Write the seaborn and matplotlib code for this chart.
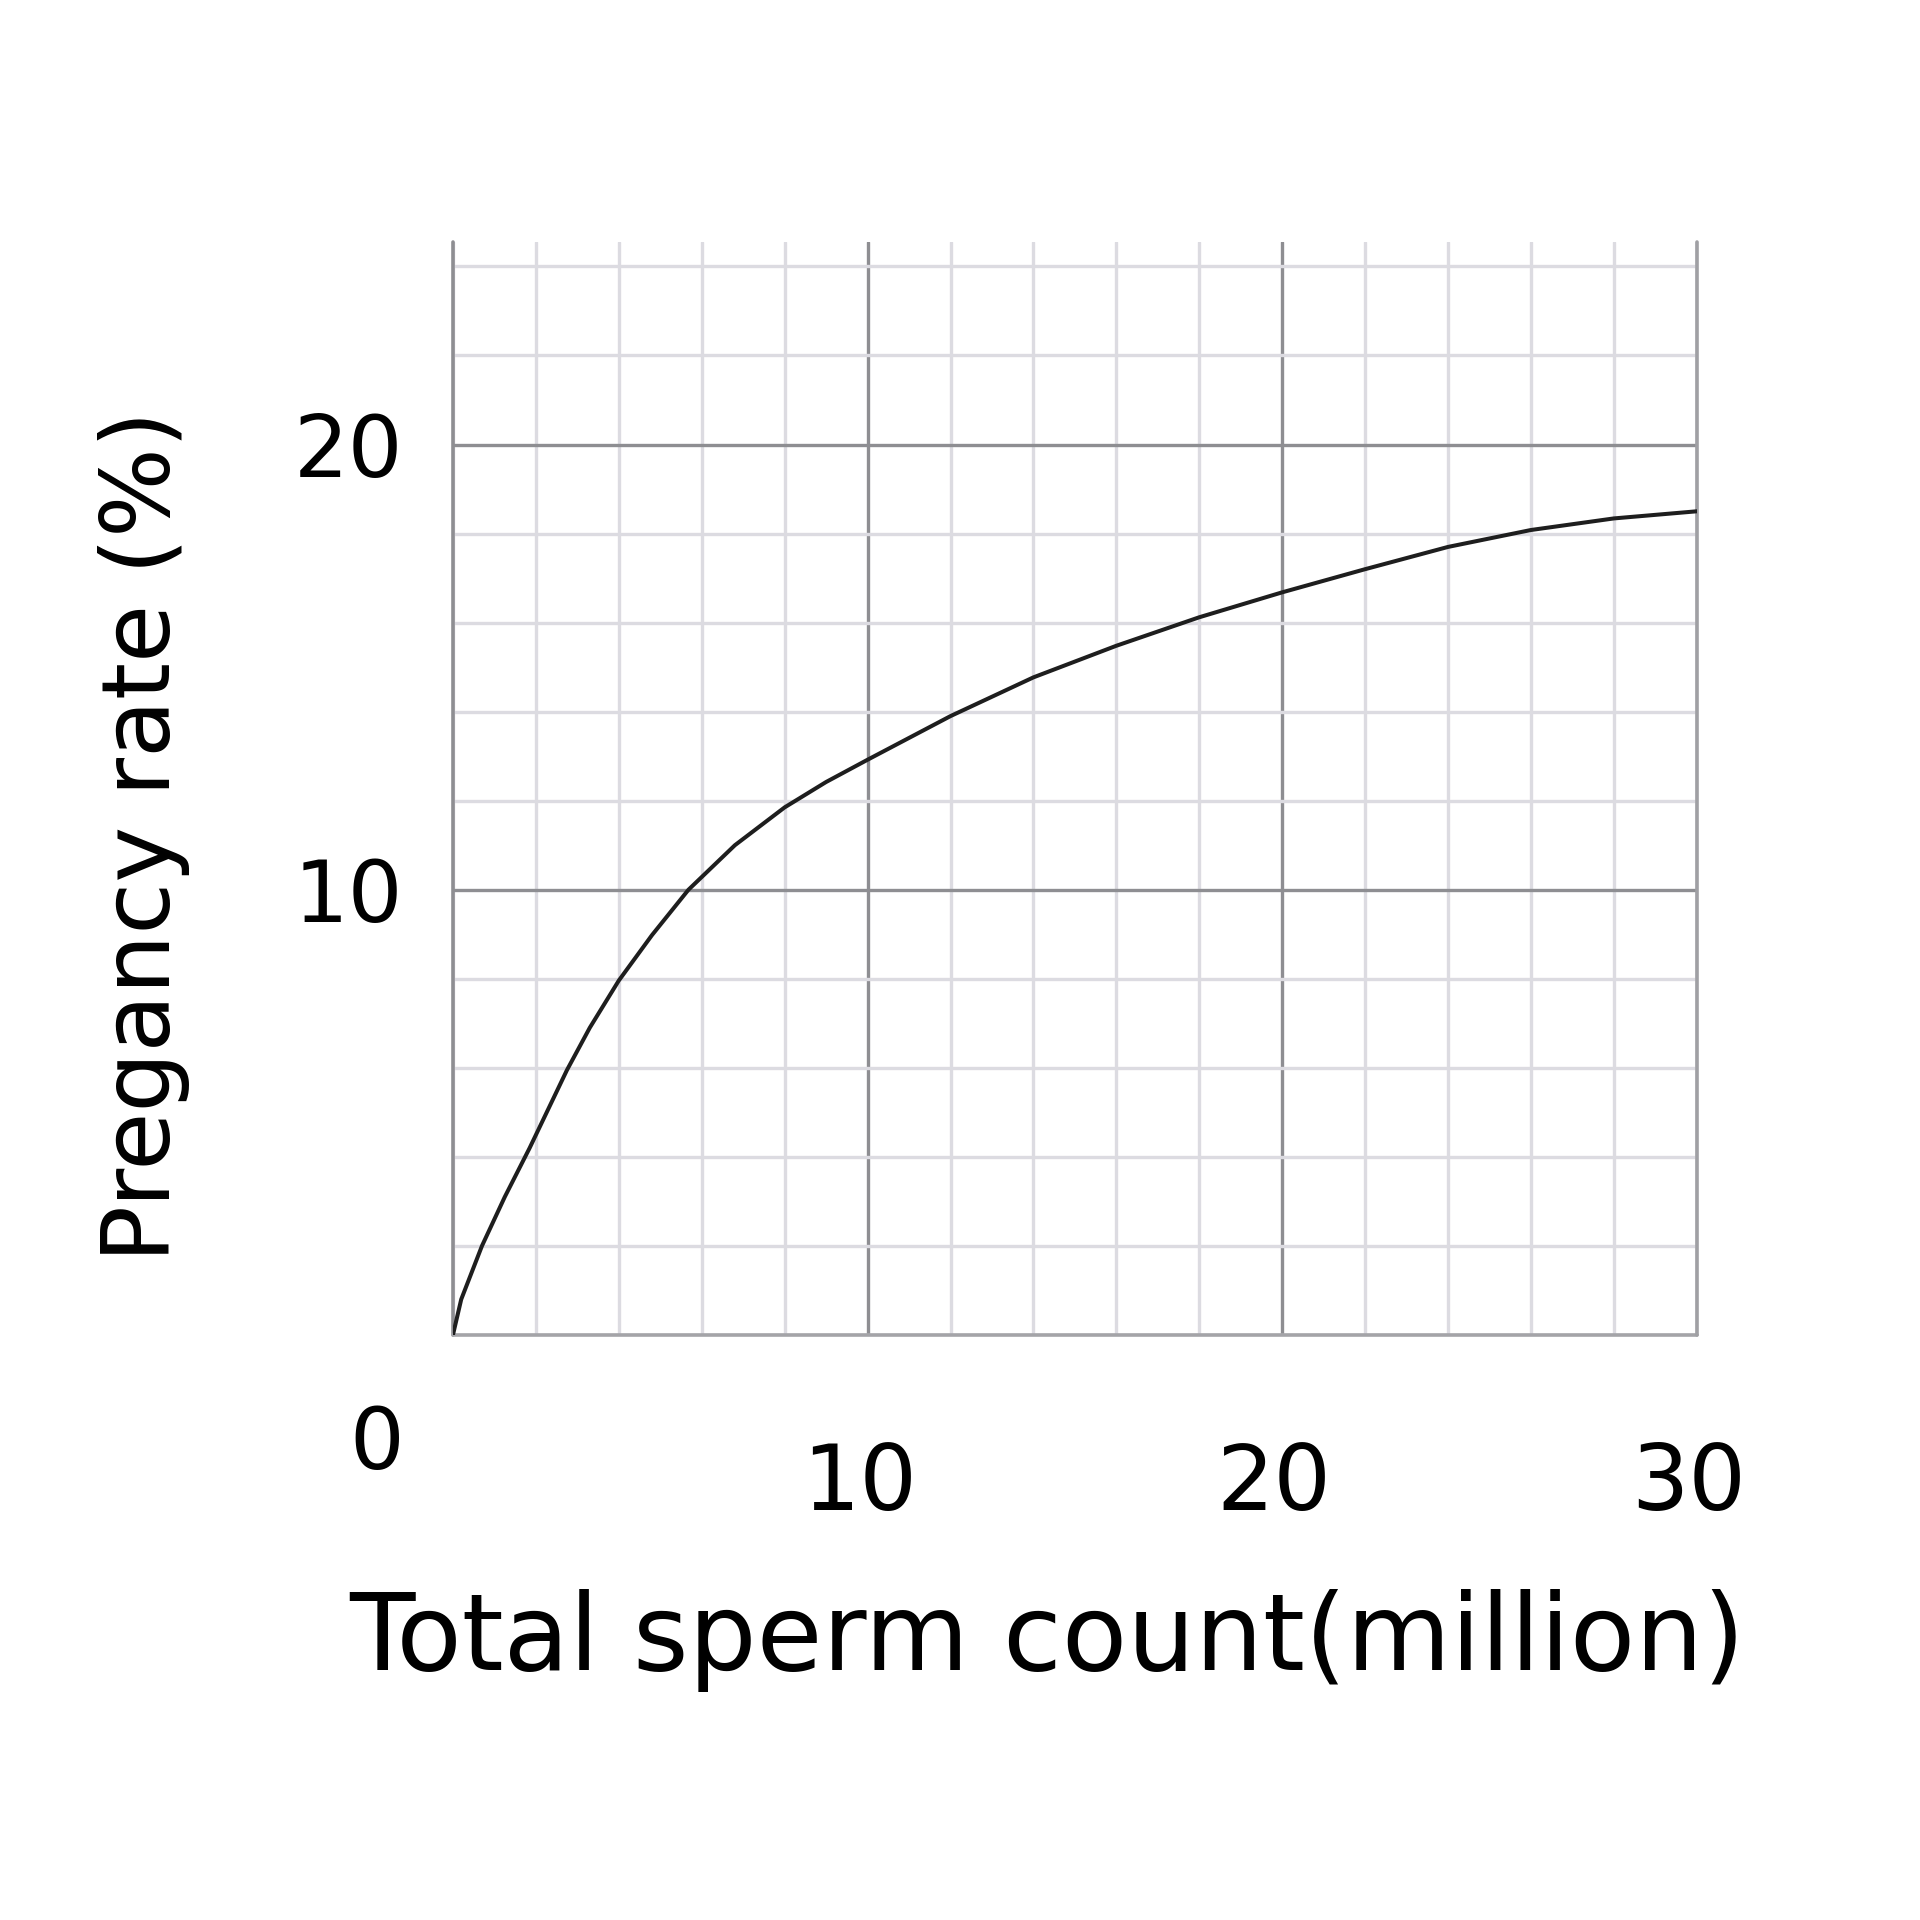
import numpy as np
import pandas as pd
import matplotlib
matplotlib.use("Agg")
import matplotlib.pyplot as plt
import matplotlib.transforms as mtransforms
import seaborn as sns

# values
sperm_count = [0, 0.2, 0.7, 1.25, 1.85, 2.75, 3.3, 4, 4.8, 5.68, 6.8, 8, 9, 10,
               12, 14, 16, 18, 20, 22, 24, 26, 28, 30]
pregnancy_rate = [0, 0.8, 2.0, 3.1, 4.2, 5.95, 6.9, 7.96, 8.98, 10, 11.0, 11.85, 12.42, 12.92,
                  13.9, 14.77, 15.48, 16.12, 16.68, 17.2, 17.7, 18.08, 18.34, 18.5]

x_ticks = [10, 20, 30]
y_ticks = [10, 20]

df = pd.DataFrame({"count": sperm_count, "rate": pregnancy_rate})

sns.set_style("white")
plt.rcParams["font.family"] = ["DejaVu Sans"]
plt.rcParams["text.color"] = "black"
plt.rcParams["xtick.color"] = "black"
plt.rcParams["ytick.color"] = "black"
plt.rcParams["axes.labelcolor"] = "black"

fig = plt.figure(figsize=(19.2, 19.2), dpi=100)
ax = fig.add_axes([0.2359, 0.3047, 0.6479, 0.5693])

# grid paper look
ax.set_xlim(0, 30)
ax.set_ylim(0, 24.55)
ax.set_xticks(np.arange(0, 31, 2), minor=True)
ax.set_yticks(np.arange(0, 25, 2), minor=True)
ax.set_xticks(x_ticks)
ax.set_yticks(y_ticks)
ax.grid(which="minor", color="#dcdbe1", linewidth=2.4)
ax.grid(which="major", color="#8e8e92", linewidth=2.4)
ax.axvline(0, color="#8e8e92", linewidth=2.6, clip_on=False)
ax.axhline(0, color="#a4a4a8", linewidth=2.6, clip_on=False)
ax.axvline(30, color="#a0a0a4", linewidth=2.6, clip_on=False)
ax.set_axisbelow(True)
for s in ax.spines.values():
    s.set_visible(False)

sns.lineplot(data=df, x="count", y="rate", ax=ax, color="#1e1e1e", linewidth=2.9)

ax.tick_params(axis="both", which="both", length=0)
ax.tick_params(axis="x", labelsize=65, pad=76)
ax.tick_params(axis="y", labelsize=62, pad=36)
# x tick labels sit a little left of their gridlines in the original
shift = mtransforms.ScaledTranslation(-8 / 100, 0, fig.dpi_scale_trans)
for lbl in ax.get_xticklabels():
    lbl.set_transform(lbl.get_transform() + shift)
ax.text(-1.83, -2.48, "0", fontsize=62, ha="center", va="center")

ax.set_xlabel("Total sperm count(million)", fontsize=77)
ax.set_ylabel("Pregancy rate (%)", fontsize=68)
ax.xaxis.set_label_coords(0.4775, -0.232)
ax.yaxis.set_label_coords(-0.211, 0.4565)

fig.savefig("out.png", dpi=100, facecolor="white")
